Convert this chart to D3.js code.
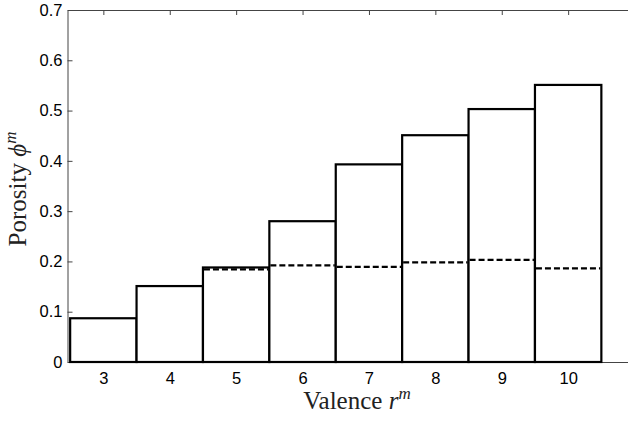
<html>
<head>
<script src="https://d3js.org/d3.v7.min.js"></script>
<style>
  body { margin:0; background:#fff; }
  .tick text { font-family:"Liberation Sans", Arial, sans-serif; font-size:16.5px; fill:#000; }
  .title { font-family:"Liberation Serif", "Times New Roman", serif; font-size:25px; fill:#222; }
</style>
</head>
<body>
<svg id="plot"></svg>
<script>

// valence categories
var valence = [3,4,5,6,7,8,9,10];
// porosity (solid bars)
var porosity = [0.087,0.151,0.188,0.280,0.393,0.451,0.503,0.551];
// porosity (dashed levels)
var porosityDashed = [null,null,0.184,0.192,0.189,0.198,0.203,0.186];
// y tick labels
var yTicks = [0,0.1,0.2,0.3,0.4,0.5,0.6,0.7];

var screen = {width:628, height:422};

var svg = d3.select("#plot")
    .attr("width",screen.width)
    .attr("height",screen.height);

//scales
var xScale = d3.scaleLinear()
    .domain([2.46,11])
    .range([67.5,67.5+8.54*66.4]);

var yScale = d3.scaleLinear()
    .domain([0,0.7])
    .range([362,10]);

//axes
var axes = svg.append("g");

axes.append("g")
    .attr("transform","translate(0,362)")
    .call(d3.axisBottom(xScale).tickValues(valence).tickSize(-5).tickSizeOuter(0).tickPadding(10));

axes.append("g")
    .attr("transform","translate(0,10)")
    .call(d3.axisTop(xScale).tickValues(valence).tickSize(-5).tickSizeOuter(0).tickFormat(""));

axes.append("g")
    .attr("transform","translate(67.5,0)")
    .call(d3.axisLeft(yScale).tickValues(yTicks).tickSize(-5).tickSizeOuter(0).tickPadding(5)
        .tickFormat(function(d){ return d===0 ? "0" : d3.format(".1f")(d); }));

axes.selectAll(".domain").attr("stroke","#444").attr("stroke-width",1);
axes.selectAll(".tick line").attr("stroke","#444");

//bars
var graph = svg.append("g");

graph.selectAll("rect")
    .data(valence)
    .enter()
    .append("rect")
    .attr("x",function(d){ return xScale(d-0.5); })
    .attr("width",function(d){ return xScale(d+0.5)-xScale(d-0.5); })
    .attr("y",function(d,i){ return yScale(porosity[i]); })
    .attr("height",function(d,i){ return yScale(0)-yScale(porosity[i]); })
    .attr("fill","white")
    .attr("stroke","black")
    .attr("stroke-width",2.2);

//dashed levels
graph.selectAll("line.dash")
    .data(valence.filter(function(d,i){ return porosityDashed[i]!==null; }))
    .enter()
    .append("line")
    .classed("dash",true)
    .attr("x1",function(d){ return xScale(d-0.5)+1; })
    .attr("x2",function(d){ return xScale(d+0.5)-1; })
    .attr("y1",function(d){ return yScale(porosityDashed[valence.indexOf(d)]); })
    .attr("y2",function(d){ return yScale(porosityDashed[valence.indexOf(d)]); })
    .attr("stroke","black")
    .attr("stroke-width",2.2)
    .attr("stroke-dasharray","6,3");

//labels
var xt = svg.append("text")
    .classed("title",true)
    .attr("text-anchor","middle")
    .attr("x",357)
    .attr("y",409);
xt.append("tspan").text("Valence ");
xt.append("tspan").attr("font-style","italic").text("r");
xt.append("tspan").attr("font-style","italic").attr("font-size","17px").attr("dy",-10).text("m");

var yt = svg.append("text")
    .classed("title",true)
    .attr("text-anchor","middle")
    .attr("transform","translate(26,189) rotate(-90)");
yt.append("tspan").text("Porosity ");
yt.append("tspan").attr("font-style","italic").text("\u03d5");
yt.append("tspan").attr("font-style","italic").attr("font-size","17px").attr("dy",-10).text("m");

</script>
</body>
</html>
